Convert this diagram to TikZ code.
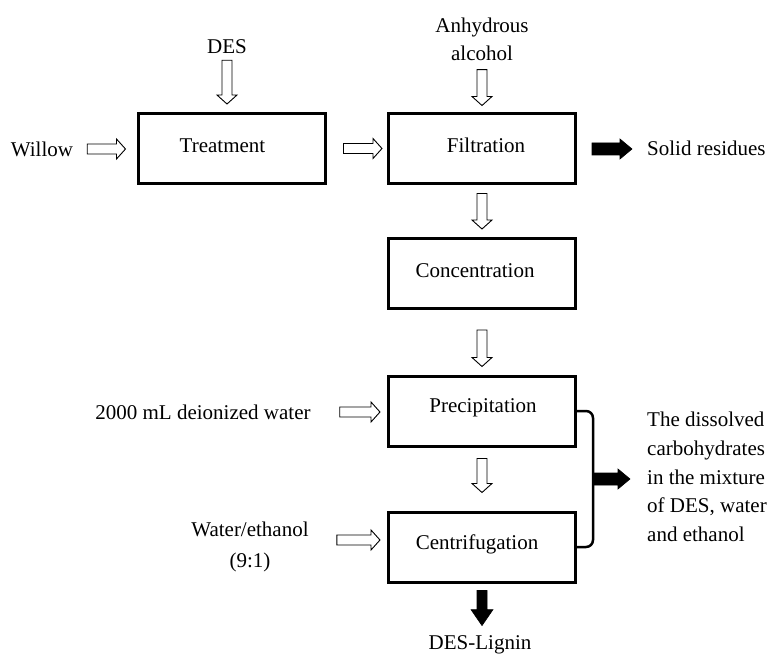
\documentclass[tikz,border=0pt]{standalone}
\usepackage{fontspec}
\setmainfont{Liberation Serif}
\usetikzlibrary{calc}
\newcommand\rarr[6]{\draw[#1] let \p1=#5, \p2=#6 in (\x1,\y1+#2) -- (\x2-#4,\y1+#2) -- (\x2-#4,\y1+#3) -- (\x2,\y1) -- (\x2-#4,\y1-#3) -- (\x2-#4,\y1-#2) -- (\x1,\y1-#2) -- cycle;}
\newcommand\darr[6]{\draw[#1] let \p1=#5, \p2=#6 in (\x1-#2,\y1) -- (\x1-#2,\y2+#4) -- (\x1-#3,\y2+#4) -- (\x1,\y2) -- (\x1+#3,\y2+#4) -- (\x1+#2,\y2+#4) -- (\x1+#2,\y1) -- cycle;}
\begin{document}
\begin{tikzpicture}[x=1pt,y=-1pt,
  every node/.style={font=\fontsize{21}{28}\selectfont},
  procbox/.style={draw,line width=3pt,minimum width=187pt,minimum height=70pt,inner sep=0pt},
  txt/.style={inner sep=0pt},
  openarr/.style={draw=black,fill=white,line width=0.9pt,line join=miter},
  fillarr/.style={draw=black,fill=black,line width=0.6pt,line join=miter},
  bracketline/.style={line width=2.5pt,rounded corners=7pt}]
\useasboundingbox (0,0) rectangle (769,655);
% boxes
\node[procbox,label={[xshift=-9pt,yshift=3pt]center:Treatment}] (treat) at (231.5,148.5) {};
\node[procbox,label={[xshift=4pt,yshift=4pt]center:Filtration}] (filt) at (482,149) {};
\node[procbox,label={[xshift=-7pt,yshift=3pt]center:Concentration}] (conc) at (482,273.5) {};
\node[procbox,label={[xshift=1pt,yshift=3pt]center:Precipitation}] (prec) at (482,411) {};
\node[procbox,label={[xshift=-5pt,yshift=3pt]center:Centrifugation}] (centri) at (482,547) {};
% texts
\node[txt] (des) at (227,47) {DES};
\node[txt,align=center] (anh) at (482,39) {Anhydrous\\alcohol};
\node[txt] (willow) at (42,149) {Willow};
\node[txt,anchor=west] (solid) at (647,148) {Solid residues};
\node[txt] (water) at (203,412) {2000 mL deionized water};
\node[txt,align=center,font=\fontsize{21}{31}\selectfont] (wateth) at (250,547) {Water/ethanol\\(9:1)};
\node[txt,align=left,anchor=west,font=\fontsize{21}{28.7}\selectfont] (diss) at (647,477) {The dissolved\\carbohydrates\\in the mixture\\of DES, water\\and ethanol};
\node[txt] (lignin) at (480,645) {DES-Lignin};
% bracket
\coordinate (bx) at (593,479);
\draw[bracketline] (prec.east) -| (bx) |- (centri.east);
% open arrows
\rarr{openarr}{5pt}{10pt}{9pt}{([xshift=14pt]willow.east)}{([xshift=-11pt]treat.west)}
\rarr{openarr}{5pt}{10pt}{9pt}{([xshift=17pt]treat.east)}{([xshift=-5pt]filt.west)}
\rarr{openarr}{5pt}{10pt}{9pt}{([xshift=29pt]water.east)}{([xshift=-7pt]prec.west)}
\rarr{openarr}{5pt}{10pt}{9pt}{([xshift=28pt,yshift=7pt]wateth.east|-centri.west)}{([xshift=-7pt]centri.west)}
\darr{openarr}{5pt}{10pt}{9pt}{([yshift=-6pt]des.south)}{([yshift=8pt]treat.north)}
\darr{openarr}{5pt}{10pt}{9pt}{([yshift=-9pt]anh.south)}{([yshift=7pt]filt.north)}
\darr{openarr}{5pt}{10pt}{9pt}{([yshift=-8pt]filt.south)}{([yshift=8pt]conc.north)}
\darr{openarr}{5pt}{10pt}{9pt}{([yshift=-20pt]conc.south)}{([yshift=8pt]prec.north)}
\darr{openarr}{5pt}{10pt}{9pt}{([yshift=-11pt]prec.south)}{([yshift=18pt]centri.north)}
% filled arrows
\rarr{fillarr}{6pt}{10pt}{12pt}{([xshift=15pt]filt.east)}{([xshift=-15pt]solid.west)}
\rarr{fillarr}{6pt}{10pt}{12pt}{(bx)}{([xshift=-17pt]diss.west)}
\darr{fillarr}{5pt}{11pt}{16pt}{([yshift=-7pt]centri.south)}{([yshift=10pt]lignin.north)}
\end{tikzpicture}
\end{document}
